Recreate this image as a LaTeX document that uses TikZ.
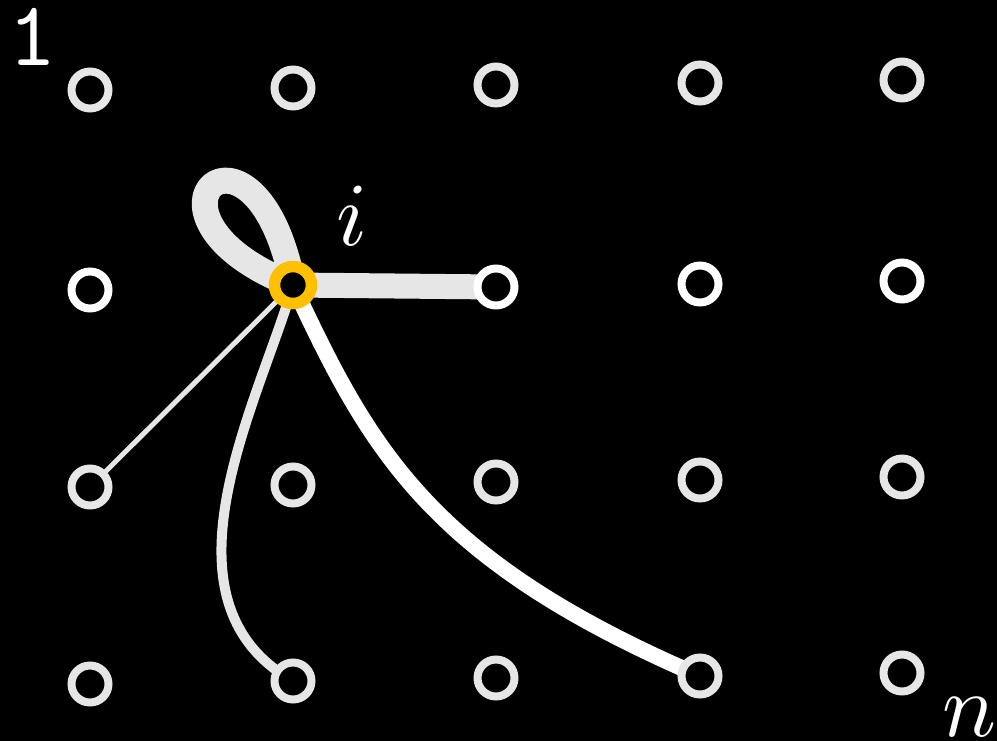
\documentclass[tikz,border=0pt]{standalone}
\usepackage{graphicx}
\usetikzlibrary{backgrounds}
\definecolor{lgray}{HTML}{E6E6E6}
\definecolor{iyellow}{HTML}{FFC000}
\begin{document}
\begin{tikzpicture}[x=1pt,y=-1pt,
  gnode/.style={circle,draw=lgray,fill=black,line width=8pt,minimum size=37pt,inner sep=0pt},
  wnode/.style={gnode,draw=white},
  inode/.style={circle,draw=iyellow,fill=black,line width=11.5pt,minimum size=37pt,inner sep=0pt},
  lbl/.style={text=white,inner sep=0pt,anchor=base}]
\useasboundingbox (0,0) rectangle (997,741);
% row 1
\node[gnode] (a11) at (90,90) {};
\node[gnode] (a12) at (293,88) {};
\node[gnode] (a13) at (496,85) {};
\node[gnode] (a14) at (700,83) {};
\node[gnode] (a15) at (902,80) {};
% row 2
\node[wnode] (a21) at (90,290) {};
\node[inode] (i) at (293,285) {};
\node[wnode] (a23) at (496,287) {};
\node[wnode] (a24) at (700,284) {};
\node[wnode] (a25) at (902,281) {};
% row 3
\node[gnode] (a31) at (90,487) {};
\node[gnode] (a32) at (293,485) {};
\node[gnode] (a33) at (496,482) {};
\node[gnode] (a34) at (700,480) {};
\node[gnode] (a35) at (902,477) {};
% row 4
\node[gnode] (a41) at (90,684) {};
\node[gnode] (a42) at (293,681) {};
\node[gnode] (a43) at (496,678) {};
\node[gnode] (a44) at (700,676) {};
\node[gnode] (a45) at (902,673) {};
% labels
\node[lbl] (one) at (33,66) {\scalebox{9.2}{\ttfamily 1}};
\node[lbl] (ilabel) at (352,245) {\scalebox{9}{$i$}};
\node[lbl] (nlabel) at (970,736) {\scalebox{9}{$n$}};
\begin{scope}[on background layer]
  \fill[black] (0,0) rectangle (997,741);
  \draw[lgray,line width=25pt] (i.center) -- (a23.center);
  \draw[lgray,line width=26pt,line join=round] (i.center) .. controls (255,90) and (115,215) .. (i.center);
  \draw[lgray,line width=5pt] (i.center) -- (a31.center);
  \draw[lgray,line width=10pt] (i.center) .. controls (260,400) and (150,600) .. (a42.center);
  \draw[white,line width=16pt] (i.center) .. controls (370,450) and (430,560) .. (a44.center);
\end{scope}
\end{tikzpicture}
\end{document}
